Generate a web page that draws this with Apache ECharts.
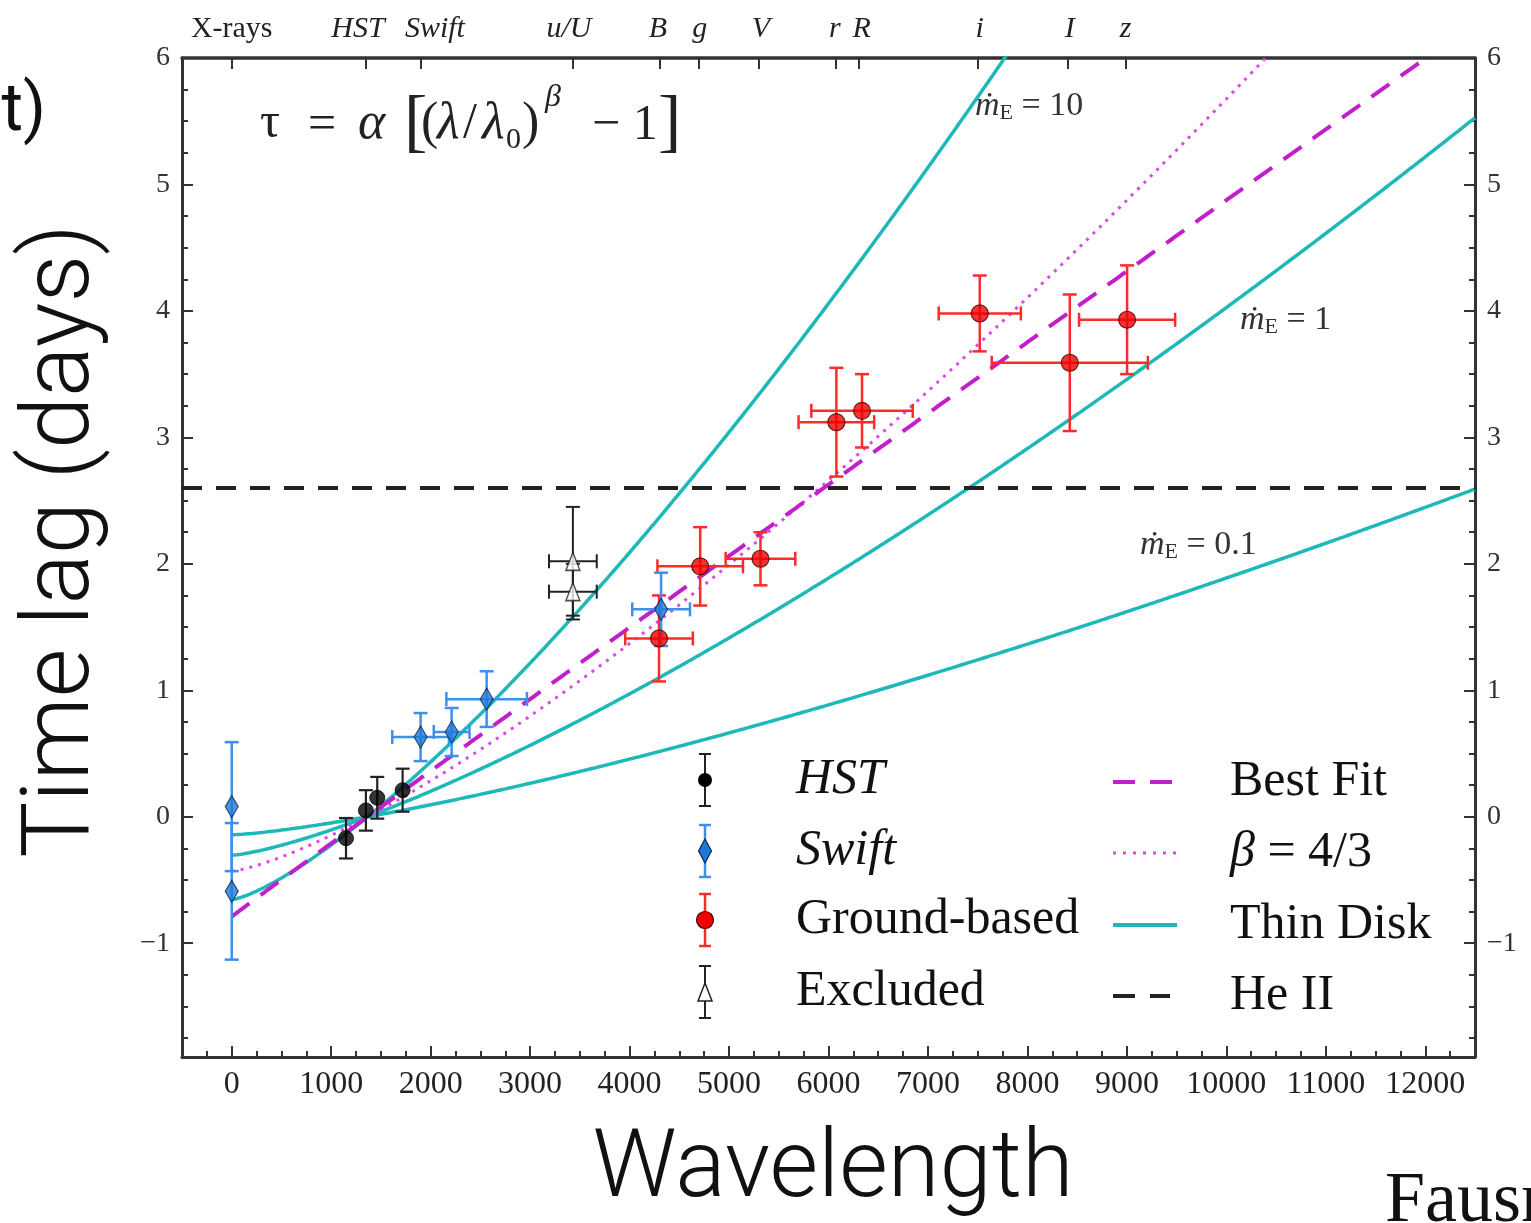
<!DOCTYPE html>
<html>
<head>
<meta charset="utf-8">
<script src="https://cdn.jsdelivr.net/npm/echarts@6/dist/echarts.min.js"></script>
<style>
  html, body { margin: 0; padding: 0; background: #fff; }
  #chart { width: 1531px; height: 1223px; }
</style>
</head>
<body>
<div id="chart"></div>
<script>
// ---- Measured continuum lags (days) against wavelength (Å) ----
const hstLambda = [1149, 1349, 1463, 1718];
const hstLag = [-0.17, 0.05, 0.15, 0.21];
const hstLagErr = [0.16, 0.16, 0.165, 0.17];

const swiftLambda = [0, 0, 1899, 2211, 2563, 4317];
const swiftLag = [0.08, -0.59, 0.63, 0.67, 0.93, 1.64];
const swiftLagErr = [0.51, 0.54, 0.19, 0.19, 0.22, 0.29];
const swiftLambdaErr = [0, 0, 285, 180, 405, 290];

const groundLambda = [4296, 4710, 5316, 6079, 6337, 7521, 8426, 9002];
const groundLag = [1.41, 1.98, 2.04, 3.12, 3.21, 3.98, 3.59, 3.93];
const groundLagErr = [0.34, 0.31, 0.21, 0.43, 0.29, 0.30, 0.54, 0.43];
const groundLambdaErr = [340, 430, 350, 380, 510, 413, 785, 483];

const excludedLambda = [3430, 3430];
const excludedLag = [2.02, 1.78];
const excludedLagErr = [0.43, 0.22];
const excludedLambdaErr = [240, 240];

// ---- Model parameters for tau = alpha [ (lambda/lambda0)^beta - 1 ] ----
const lambda0 = 1367;
const bestFitParams = [0.79, 0.99];          // alpha, beta
const fixedBetaParams = [0.43, 4 / 3];       // alpha, beta = 4/3
const thinDiskAlpha = [0.656, 0.305, 0.143]; // mdot_E = 10, 1, 0.1
const thinDiskBeta = 4 / 3;
const heIILag = 2.6;

// ---- Axis ticks and labels ----
const xMajorTicks = [0, 1000, 2000, 3000, 4000, 5000, 6000, 7000, 8000, 9000, 10000, 11000, 12000];
const yMajorTicks = [-1, 0, 1, 2, 3, 4, 5, 6];
const bandTickLambda = [0, 1350, 1900, 3430, 4300, 4700, 5300, 6070, 6300, 7500, 8410, 8990];
const bandLabelLambda = [0, 1270, 2043, 3390, 4284, 4706, 5320, 6063, 6334, 7521, 8425, 8988];
const bandLabels = ['X-rays', 'HST', 'Swift', 'u/U', 'B', 'g', 'V', 'r', 'R', 'i', 'I', 'z'];

const X_MIN = -500, X_MAX = 12500, Y_MIN = -1.9, Y_MAX = 6;

const xMinorTicks = [];
for (let v = -250; v < X_MAX; v += 250) if (v % 1000 !== 0) xMinorTicks.push(v);
const yMinorTicks = [];
for (let v = -1.75; v < Y_MAX; v += 0.25) if (Math.abs(v - Math.round(v)) > 1e-6) yMinorTicks.push(+v.toFixed(2));

function modelCurve(alpha, beta) {
  const pts = [];
  for (let lam = 0; lam <= X_MAX; lam += 25) {
    pts.push([lam, alpha * (Math.pow(lam / lambda0, beta) - 1)]);
  }
  return pts;
}

function zip(xs, ys, dxs, dys) {
  return xs.map((x, i) => [x, ys[i], dxs ? dxs[i] : 0, dys[i]]);
}

function errorBars(color, lw, cap) {
  return function (params, api) {
    const x = api.value(0), y = api.value(1), dx = api.value(2), dy = api.value(3);
    const t = api.coord([x, y + dy]), b = api.coord([x, y - dy]);
    const st = { stroke: color, lineWidth: lw };
    const kids = [
      { type: 'line', shape: { x1: t[0], y1: t[1], x2: b[0], y2: b[1] }, style: st },
      { type: 'line', shape: { x1: t[0] - cap, y1: t[1], x2: t[0] + cap, y2: t[1] }, style: st },
      { type: 'line', shape: { x1: b[0] - cap, y1: b[1], x2: b[0] + cap, y2: b[1] }, style: st }
    ];
    if (dx > 0) {
      const l = api.coord([x - dx, y]), r = api.coord([x + dx, y]);
      kids.push(
        { type: 'line', shape: { x1: l[0], y1: l[1], x2: r[0], y2: r[1] }, style: st },
        { type: 'line', shape: { x1: l[0], y1: l[1] - cap, x2: l[0], y2: l[1] + cap }, style: st },
        { type: 'line', shape: { x1: r[0], y1: r[1] - cap, x2: r[0], y2: r[1] + cap }, style: st }
      );
    }
    return { type: 'group', children: kids };
  };
}

const SERIF = '"Liberation Serif", "DejaVu Serif", serif';
const AXIS_COLOR = '#333';
const MAGENTA = '#c21fcc';
const MAGENTA_DOT = '#dc4ae6';
const CYAN = '#1fb8b8';

const tickStyle = { color: AXIS_COLOR, width: 2 };
const minus = v => String(v).replace('-', '\u2212');
const plain = v => String(v);

function xAxisDef(extra) {
  return Object.assign({
    type: 'value', min: X_MIN, max: X_MAX, splitLine: { show: false },
    axisLine: { show: false, onZero: false }
  }, extra);
}
function yAxisDef(extra) {
  return Object.assign({
    type: 'value', min: Y_MIN, max: Y_MAX, splitLine: { show: false },
    axisLine: { show: false, onZero: false }
  }, extra);
}

const chart = echarts.init(document.getElementById('chart'), null, { renderer: 'canvas' });

const serifText = (size, style) => (style || '') + ' ' + size + 'px "Liberation Serif", serif';

const option = {
  animation: false,
  backgroundColor: '#fff',
  grid: { left: 182, right: 56, top: 58, bottom: 166, containLabel: false, outerBoundsMode: 'none' },
  xAxis: [
    xAxisDef({
      position: 'bottom',
      axisLine: { show: true, onZero: false, lineStyle: { color: AXIS_COLOR, width: 3 } },
      axisTick: { show: true, inside: true, length: 11, lineStyle: tickStyle, customValues: xMajorTicks },
      axisLabel: { show: true, customValues: xMajorTicks, margin: 12, fontFamily: SERIF, fontSize: 32, color: '#222', formatter: plain }
    }),
    xAxisDef({
      position: 'bottom',
      axisTick: { show: true, inside: true, length: 6, lineStyle: tickStyle, customValues: xMinorTicks },
      axisLabel: { show: false }
    }),
    xAxisDef({
      position: 'top',
      axisLine: { show: true, onZero: false, lineStyle: { color: AXIS_COLOR, width: 3.5 } },
      axisTick: { show: true, inside: true, length: 11, lineStyle: tickStyle, customValues: bandTickLambda },
      axisLabel: {
        show: true, customValues: bandLabelLambda, margin: 14,
        formatter: function (v) {
          const i = bandLabelLambda.indexOf(v);
          const s = i >= 0 ? bandLabels[i] : '';
          return s === 'X-rays' ? '{n|' + s + '}' : '{i|' + s + '}';
        },
        rich: {
          n: { fontFamily: SERIF, fontSize: 30, color: '#222' },
          i: { fontFamily: SERIF, fontSize: 30, fontStyle: 'italic', color: '#222' }
        }
      }
    })
  ],
  yAxis: [
    yAxisDef({
      position: 'left',
      axisLine: { show: true, onZero: false, lineStyle: { color: AXIS_COLOR, width: 3 } },
      axisTick: { show: true, inside: true, length: 11, lineStyle: tickStyle, customValues: yMajorTicks },
      axisLabel: { show: true, customValues: yMajorTicks, margin: 12, fontFamily: SERIF, fontSize: 28, color: '#333', formatter: minus }
    }),
    yAxisDef({
      position: 'left',
      axisTick: { show: true, inside: true, length: 6, lineStyle: tickStyle, customValues: yMinorTicks },
      axisLabel: { show: false }
    }),
    yAxisDef({
      position: 'right',
      axisLine: { show: true, onZero: false, lineStyle: { color: AXIS_COLOR, width: 3 } },
      axisTick: { show: true, inside: true, length: 11, lineStyle: tickStyle, customValues: yMajorTicks },
      axisLabel: { show: true, customValues: yMajorTicks, margin: 12, fontFamily: SERIF, fontSize: 28, color: '#333', formatter: minus }
    }),
    yAxisDef({
      position: 'right',
      axisTick: { show: true, inside: true, length: 6, lineStyle: tickStyle, customValues: yMinorTicks },
      axisLabel: { show: false }
    })
  ],
  series: [
    // thin-disk model curves (beta = 4/3)
    ...thinDiskAlpha.map(a => ({
      type: 'line', name: 'Thin Disk', data: modelCurve(a, thinDiskBeta), showSymbol: false,
      lineStyle: { color: CYAN, width: 3.5 }, z: 2, silent: true
    })),
    {
      type: 'line', name: 'beta=4/3', data: modelCurve(fixedBetaParams[0], fixedBetaParams[1]), showSymbol: false,
      lineStyle: { color: MAGENTA_DOT, width: 3, type: [3, 6] }, z: 3, silent: true
    },
    {
      type: 'line', name: 'Best Fit', data: modelCurve(bestFitParams[0], bestFitParams[1]), showSymbol: false,
      lineStyle: { color: MAGENTA, width: 4, type: [22, 14] }, z: 3, silent: true
    },
    {
      type: 'line', name: 'He II', data: [[X_MIN, heIILag], [X_MAX, heIILag]], showSymbol: false,
      lineStyle: { color: '#222', width: 4, type: [20, 14] }, z: 3, silent: true
    },
    // error bars
    { type: 'custom', renderItem: errorBars('#222', 2, 7), data: zip(excludedLambda, excludedLag, excludedLambdaErr, excludedLagErr), encode: { x: 0, y: 1 }, z: 4 },
    { type: 'custom', renderItem: errorBars('#222', 2.2, 7), data: zip(hstLambda, hstLag, null, hstLagErr), encode: { x: 0, y: 1 }, z: 4 },
    { type: 'custom', renderItem: errorBars('#ff2a2a', 2.5, 7), data: zip(groundLambda, groundLag, groundLambdaErr, groundLagErr), encode: { x: 0, y: 1 }, z: 4 },
    { type: 'custom', renderItem: errorBars('#3d8ff0', 2.5, 7), data: zip(swiftLambda, swiftLag, swiftLambdaErr, swiftLagErr), encode: { x: 0, y: 1 }, z: 4 },
    // markers
    { type: 'scatter', name: 'Excluded', data: excludedLambda.map((x, i) => [x, excludedLag[i]]), symbol: 'triangle', symbolSize: [14, 18], itemStyle: { color: '#fff', borderColor: '#222', borderWidth: 1.5 }, z: 5 },
    { type: 'scatter', name: 'HST', data: hstLambda.map((x, i) => [x, hstLag[i]]), symbol: 'circle', symbolSize: 15, itemStyle: { color: '#000', borderColor: '#000', borderWidth: 1 }, z: 5 },
    { type: 'scatter', name: 'Ground-based', data: groundLambda.map((x, i) => [x, groundLag[i]]), symbol: 'circle', symbolSize: 17, itemStyle: { color: '#ee0000', borderColor: '#4a0000', borderWidth: 1.2 }, z: 5 },
    { type: 'scatter', name: 'Swift', data: swiftLambda.map((x, i) => [x, swiftLag[i]]), symbol: 'diamond', symbolSize: [13, 22], itemStyle: { color: '#1f78d8', borderColor: '#0b2a55', borderWidth: 1.2 }, z: 5 }
  ],
  graphic: [
    // axis titles
    { type: 'text', x: 64, y: 541, rotation: Math.PI / 2,
      style: { text: 'Time lag (days)', font: '300 94px Roboto, "Liberation Sans", sans-serif', fill: '#111', align: 'center', verticalAlign: 'middle' } },
    { type: 'text', x: 833, y: 1172,
      style: { text: 'Wavelength', font: '300 94px Roboto, "Liberation Sans", sans-serif', fill: '#111', align: 'center', verticalAlign: 'middle' } },
    { type: 'text', x: 46, y: 113,
      style: { text: 't)', font: '400 66px Roboto, "Liberation Sans", sans-serif', fill: '#111', align: 'right', verticalAlign: 'middle' } },
    { type: 'text', x: 1385, y: 1166,
      style: { text: 'Fausnaugh et al. 2016', font: serifText(72), fill: '#111', align: 'left', verticalAlign: 'top' } },

    // lag-law formula
    { type: 'text', x: 260, y: 124, style: { text: '\u03c4', font: serifText(50), fill: '#222', verticalAlign: 'middle' } },
    { type: 'text', x: 308, y: 126, style: { text: '=', font: serifText(50), fill: '#222', verticalAlign: 'middle' } },
    { type: 'text', x: 358, y: 124, style: { text: '\u03b1', font: serifText(52, 'italic'), fill: '#222', verticalAlign: 'middle' } },
    { type: 'text', x: 404, y: 126, style: { text: '[', font: serifText(70), fill: '#222', verticalAlign: 'middle' } },
    { type: 'text', x: 421, y: 124, style: { text: '(', font: serifText(52), fill: '#222', verticalAlign: 'middle' } },
    { type: 'text', x: 437, y: 124, style: { text: '\u03bb', font: serifText(52, 'italic'), fill: '#222', verticalAlign: 'middle' } },
    { type: 'text', x: 463, y: 124, style: { text: '/', font: serifText(50), fill: '#222', verticalAlign: 'middle' } },
    { type: 'text', x: 482, y: 124, style: { text: '\u03bb', font: serifText(52, 'italic'), fill: '#222', verticalAlign: 'middle' } },
    { type: 'text', x: 506, y: 140, style: { text: '0', font: serifText(30), fill: '#222', verticalAlign: 'middle' } },
    { type: 'text', x: 522, y: 124, style: { text: ')', font: serifText(52), fill: '#222', verticalAlign: 'middle' } },
    { type: 'text', x: 545, y: 98, style: { text: '\u03b2', font: serifText(32, 'italic'), fill: '#222', verticalAlign: 'middle' } },
    { type: 'text', x: 592, y: 126, style: { text: '\u2212 1', font: serifText(50), fill: '#222', verticalAlign: 'middle' } },
    { type: 'text', x: 658, y: 126, style: { text: ']', font: serifText(70), fill: '#222', verticalAlign: 'middle' } },

    // accretion-rate labels on the thin-disk curves
    { type: 'text', x: 975, y: 106, style: { text: '{m|\u1e41}{s|E}{t| = 10}', verticalAlign: 'middle',
      rich: { m: { font: 'italic 34px "Liberation Serif", "DejaVu Serif", serif', fill: '#333' }, s: { font: serifText(22), fill: '#333', verticalAlign: 'bottom', padding: [14, 0, 0, 0] }, t: { font: serifText(34), fill: '#333' } } } },
    { type: 'text', x: 1240, y: 320, style: { text: '{m|\u1e41}{s|E}{t| = 1}', verticalAlign: 'middle',
      rich: { m: { font: 'italic 34px "Liberation Serif", "DejaVu Serif", serif', fill: '#333' }, s: { font: serifText(22), fill: '#333', verticalAlign: 'bottom', padding: [14, 0, 0, 0] }, t: { font: serifText(34), fill: '#333' } } } },
    { type: 'text', x: 1140, y: 545, style: { text: '{m|\u1e41}{s|E}{t| = 0.1}', verticalAlign: 'middle',
      rich: { m: { font: 'italic 34px "Liberation Serif", "DejaVu Serif", serif', fill: '#333' }, s: { font: serifText(22), fill: '#333', verticalAlign: 'bottom', padding: [14, 0, 0, 0] }, t: { font: serifText(34), fill: '#333' } } } },

    // legend: measurement sets
    { type: 'group', x: 705, y: 780, children: [
      { type: 'line', shape: { x1: 0, y1: -26, x2: 0, y2: 26 }, style: { stroke: '#222', lineWidth: 2 } },
      { type: 'line', shape: { x1: -6, y1: -26, x2: 6, y2: -26 }, style: { stroke: '#222', lineWidth: 2 } },
      { type: 'line', shape: { x1: -6, y1: 26, x2: 6, y2: 26 }, style: { stroke: '#222', lineWidth: 2 } },
      { type: 'circle', shape: { cx: 0, cy: 0, r: 7 }, style: { fill: '#000' } }
    ] },
    { type: 'group', x: 705, y: 851, children: [
      { type: 'line', shape: { x1: 0, y1: -26, x2: 0, y2: 26 }, style: { stroke: '#3d8ff0', lineWidth: 2.5 } },
      { type: 'line', shape: { x1: -6, y1: -26, x2: 6, y2: -26 }, style: { stroke: '#3d8ff0', lineWidth: 2.5 } },
      { type: 'line', shape: { x1: -6, y1: 26, x2: 6, y2: 26 }, style: { stroke: '#3d8ff0', lineWidth: 2.5 } },
      { type: 'polygon', shape: { points: [[0, -12], [6.5, 0], [0, 12], [-6.5, 0]] }, style: { fill: '#1f78d8', stroke: '#0b2a55', lineWidth: 1.2 } }
    ] },
    { type: 'group', x: 705, y: 920, children: [
      { type: 'line', shape: { x1: 0, y1: -26, x2: 0, y2: 26 }, style: { stroke: '#ff2a2a', lineWidth: 2.5 } },
      { type: 'line', shape: { x1: -6, y1: -26, x2: 6, y2: -26 }, style: { stroke: '#ff2a2a', lineWidth: 2.5 } },
      { type: 'line', shape: { x1: -6, y1: 26, x2: 6, y2: 26 }, style: { stroke: '#ff2a2a', lineWidth: 2.5 } },
      { type: 'circle', shape: { cx: 0, cy: 0, r: 8.5 }, style: { fill: '#ee0000', stroke: '#4a0000', lineWidth: 1.2 } }
    ] },
    { type: 'group', x: 705, y: 992, children: [
      { type: 'line', shape: { x1: 0, y1: -26, x2: 0, y2: 26 }, style: { stroke: '#222', lineWidth: 2 } },
      { type: 'line', shape: { x1: -6, y1: -26, x2: 6, y2: -26 }, style: { stroke: '#222', lineWidth: 2 } },
      { type: 'line', shape: { x1: -6, y1: 26, x2: 6, y2: 26 }, style: { stroke: '#222', lineWidth: 2 } },
      { type: 'polygon', shape: { points: [[0, -9], [7, 9], [-7, 9]] }, style: { fill: '#fff', stroke: '#222', lineWidth: 1.5 } }
    ] },
    { type: 'text', x: 796, y: 780, style: { text: 'HST', font: serifText(50, 'italic'), fill: '#111', verticalAlign: 'middle' } },
    { type: 'text', x: 796, y: 851, style: { text: 'Swift', font: serifText(50, 'italic'), fill: '#111', verticalAlign: 'middle' } },
    { type: 'text', x: 796, y: 920, style: { text: 'Ground-based', font: serifText(50), fill: '#111', verticalAlign: 'middle' } },
    { type: 'text', x: 796, y: 992, style: { text: 'Excluded', font: serifText(50), fill: '#111', verticalAlign: 'middle' } },

    // legend: model curves
    { type: 'line', shape: { x1: 1113, y1: 782, x2: 1135, y2: 782 }, style: { stroke: MAGENTA, lineWidth: 4 } },
    { type: 'line', shape: { x1: 1150, y1: 782, x2: 1172, y2: 782 }, style: { stroke: MAGENTA, lineWidth: 4 } },
    { type: 'line', shape: { x1: 1113, y1: 853, x2: 1178, y2: 853 }, style: { stroke: MAGENTA_DOT, lineWidth: 3, lineDash: [3, 7] } },
    { type: 'line', shape: { x1: 1113, y1: 925, x2: 1177, y2: 925 }, style: { stroke: CYAN, lineWidth: 4 } },
    { type: 'line', shape: { x1: 1113, y1: 996, x2: 1135, y2: 996 }, style: { stroke: '#222', lineWidth: 4 } },
    { type: 'line', shape: { x1: 1150, y1: 996, x2: 1170, y2: 996 }, style: { stroke: '#222', lineWidth: 4 } },
    { type: 'text', x: 1230, y: 782, style: { text: 'Best Fit', font: serifText(50), fill: '#111', verticalAlign: 'middle' } },
    { type: 'text', x: 1230, y: 853, style: { text: '{b|\u03b2}{t| = 4/3}', verticalAlign: 'middle',
      rich: { b: { font: serifText(50, 'italic'), fill: '#111' }, t: { font: serifText(50), fill: '#111' } } } },
    { type: 'text', x: 1230, y: 925, style: { text: 'Thin Disk', font: serifText(50), fill: '#111', verticalAlign: 'middle' } },
    { type: 'text', x: 1230, y: 996, style: { text: 'He II', font: serifText(50), fill: '#111', verticalAlign: 'middle' } }
  ]
};

chart.setOption(option);
</script>
</body>
</html>
